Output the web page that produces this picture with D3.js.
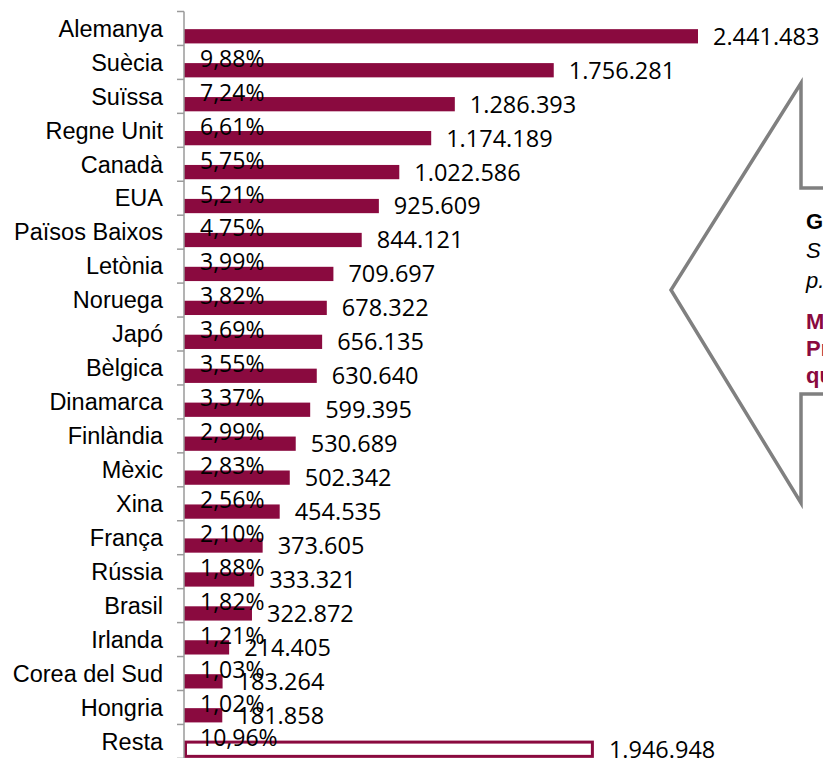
<!DOCTYPE html>
<html><head><meta charset="utf-8">
<script src="https://cdn.jsdelivr.net/npm/d3@7"></script>
<style>html,body{margin:0;padding:0;background:#fff;overflow:hidden}</style>
</head><body>
<svg id="chart" width="823" height="758"></svg>
<script>
const categories = ["Alemanya","Suècia","Suïssa","Regne Unit","Canadà","EUA","Països Baixos","Letònia","Noruega","Japó","Bèlgica","Dinamarca","Finlàndia","Mèxic","Xina","França","Rússia","Brasil","Irlanda","Corea del Sud","Hongria","Resta"];
const values = [2441483,1756281,1286393,1174189,1022586,925609,844121,709697,678322,656135,630640,599395,530689,502342,454535,373605,333321,322872,214405,183264,181858,1946948];
const valueLabels = ["2.441.483","1.756.281","1.286.393","1.174.189","1.022.586","925.609","844.121","709.697","678.322","656.135","630.640","599.395","530.689","502.342","454.535","373.605","333.321","322.872","214.405","183.264","181.858","1.946.948"];
const percentLabels = [null,"9,88%","7,24%","6,61%","5,75%","5,21%","4,75%","3,99%","3,82%","3,69%","3,55%","3,37%","2,99%","2,83%","2,56%","2,10%","1,88%","1,82%","1,21%","1,03%","1,02%","10,96%"];
const calloutLines = [
  {t:"G", w:"bold", s:"normal", c:"#000"},
  {t:"S", w:"normal", s:"italic", c:"#000"},
  {t:"p.", w:"normal", s:"italic", c:"#000"},
  {t:"M", w:"bold", s:"normal", c:"#8a0a3f"},
  {t:"Pr", w:"bold", s:"normal", c:"#8a0a3f"},
  {t:"qu", w:"bold", s:"normal", c:"#8a0a3f"}
];

const maroon = "#8a0a3f";
const svg = d3.select("#chart");
const axisX = 184;

const y = d3.scaleBand().domain(categories).range([11.5, 11.5 + 33.95*categories.length]).padding(0);
const x = d3.scaleLinear().domain([0, 2441483]).range([axisX, 698]);
const bw = y.bandwidth();

// callout shape
svg.append("path")
  .attr("d", "M840,188 L801,188 L801,83 L671,290 L801,503 L801,394 L840,394")
  .attr("fill", "none").attr("stroke", "#808080").attr("stroke-width", 3.5).attr("stroke-linejoin","miter");
const cy = [229, 258, 288, 329, 356, 383];
calloutLines.forEach((l,i)=>{
  svg.append("text").attr("x", 806).attr("y", cy[i])
    .attr("font-family","'Liberation Sans', Arial, sans-serif").attr("font-size", 22)
    .attr("font-weight", l.w).attr("font-style", l.s).attr("fill", l.c).text(l.t);
});

// bars
const rows = categories.map((c,i)=>({c, v:values[i], vl:valueLabels[i], pl:percentLabels[i], last: i===categories.length-1}));
svg.selectAll("rect.bar").data(rows).enter().append("rect")
  .attr("class","bar")
  .attr("x", d=> d.last ? x(0)+1.5 : x(0))
  .attr("y", d=> y(d.c)+bw*0.52)
  .attr("width", d=> d.last ? x(d.v)-x(0)-3 : x(d.v)-x(0))
  .attr("height", bw*0.42)
  .attr("fill", d=> d.last ? "#fff" : maroon)
  .attr("stroke", d=> d.last ? maroon : "none")
  .attr("stroke-width", d=> d.last ? 3 : 0);

// axis
const g = svg.append("g").attr("transform", `translate(${axisX},0)`);
g.append("line").attr("x1",0).attr("x2",0).attr("y1",y.range()[0]).attr("y2",y.range()[1]).attr("stroke","#9a9a9a").attr("stroke-width",1.5);
const tickYs = d3.range(categories.length+1).map(i=> y.range()[0] + i*bw);
g.selectAll("line.tick").data(tickYs).enter().append("line")
  .attr("x1",-7).attr("x2",0).attr("y1",d=>d).attr("y2",d=>d).attr("stroke","#9a9a9a").attr("stroke-width",1.5);

// category labels
svg.selectAll("text.cat").data(rows).enter().append("text")
  .attr("x", 163).attr("y", d=> y(d.c)+bw/2)
  .attr("dy","0.35em").attr("text-anchor","end")
  .attr("font-family","'Liberation Sans', Arial, sans-serif").attr("font-size", 23.5).attr("fill","#000")
  .text(d=>d.c);

// percent labels
svg.selectAll("text.pct").data(rows.filter(d=>d.pl)).enter().append("text")
  .attr("x", 200).attr("y", d=> y(d.c)+13)
  .attr("dy","0.36em")
  .attr("font-family","'Open Sans', sans-serif").attr("font-size", 23).attr("fill","#000")
  .text(d=>d.pl);

// value labels
svg.selectAll("text.val").data(rows).enter().append("text")
  .attr("x", d=> x(d.v)+15).attr("y", d=> y(d.c)+bw*0.73)
  .attr("dy","0.36em")
  .attr("font-family","'Open Sans', sans-serif").attr("font-size", 23.5).attr("fill","#000")
  .text(d=>d.vl);
</script>
</body></html>
